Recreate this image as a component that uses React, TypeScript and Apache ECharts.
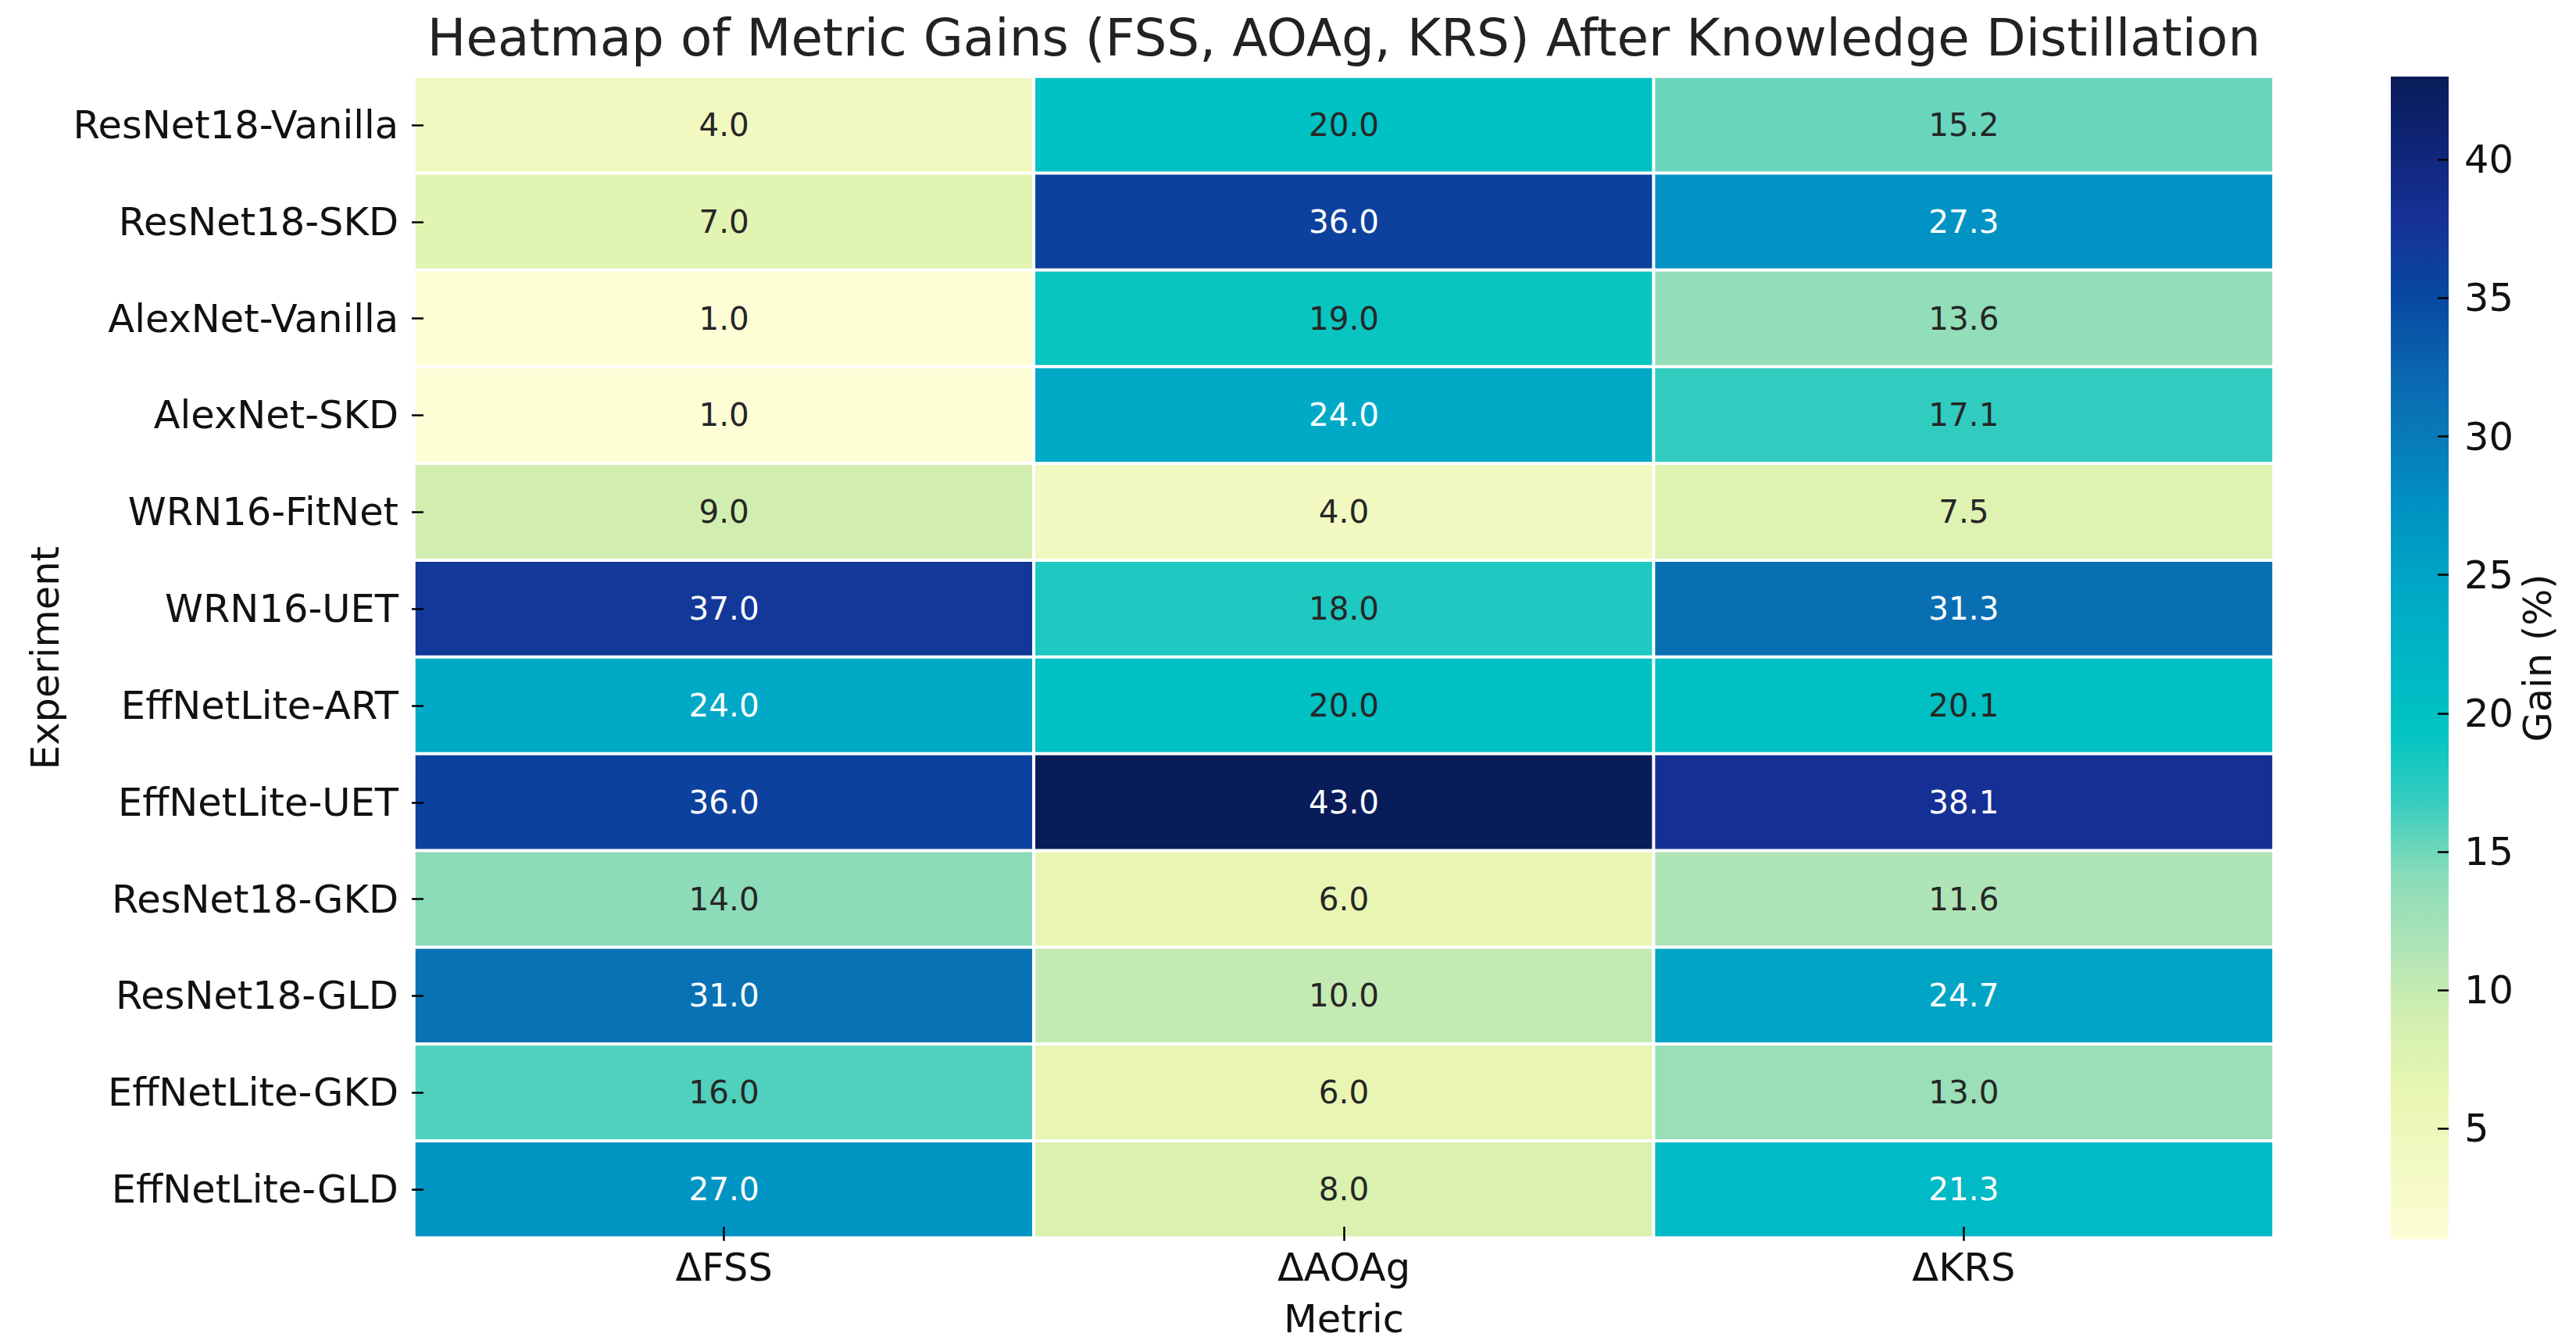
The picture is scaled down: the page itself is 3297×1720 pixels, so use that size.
import React, { useEffect, useRef } from "react";
import * as echarts from "echarts";

const experiments = [
  "ResNet18-Vanilla",
  "ResNet18-SKD",
  "AlexNet-Vanilla",
  "AlexNet-SKD",
  "WRN16-FitNet",
  "WRN16-UET",
  "EffNetLite-ART",
  "EffNetLite-UET",
  "ResNet18-GKD",
  "ResNet18-GLD",
  "EffNetLite-GKD",
  "EffNetLite-GLD",
];
const metrics = ["ΔFSS", "ΔAOAg", "ΔKRS"];
const fssGain = [4.0, 7.0, 1.0, 1.0, 9.0, 37.0, 24.0, 36.0, 14.0, 31.0, 16.0, 27.0];
const aoagGain = [20.0, 36.0, 19.0, 24.0, 4.0, 18.0, 20.0, 43.0, 6.0, 10.0, 6.0, 8.0];
const krsGain = [15.2, 27.3, 13.6, 17.1, 7.5, 31.3, 20.1, 38.1, 11.6, 24.7, 13.0, 21.3];
const colorbarTicks = [5, 10, 15, 20, 25, 30, 35, 40];
const valueMin = 1;
const valueMax = 43;

// Saturated YlGnBu-like colour ramp, evenly spaced from valueMin to valueMax
const cmap = [
  "#fdfdd6",
  "#f3fac4",
  "#e8f6b1",
  "#d3efb0",
  "#b0e4b6",
  "#8adcb9",
  "#38cdc0",
  "#00c4c2",
  "#00b6c6",
  "#00a6c6",
  "#0093c3",
  "#077cb8",
  "#0b64af",
  "#0748a0",
  "#163298",
  "#0f2578",
  "#081c59",
];

const FONT = "DejaVu Sans";
const LABEL_SIZE = 49.5;

export default function App() {
  const ref = useRef<HTMLDivElement>(null);
  useEffect(() => {
    if (!ref.current) return;
    const chart = echarts.init(ref.current, null, { renderer: "svg" });
    const columns = [fssGain, aoagGain, krsGain];
    const data: any[] = [];
    columns.forEach((col, xi) => {
      col.forEach((v, yi) => {
        data.push({
          value: [xi, yi, v],
          label: { color: v > 20.5 ? "#ffffff" : "#262626" },
        });
      });
    });
    const stops = cmap.map((c, i) => ({ offset: i / (cmap.length - 1), color: c }));

    chart.setOption({
      animation: false,
      backgroundColor: "#ffffff",
      textStyle: { fontFamily: FONT },
      grid: [
        { left: 530, top: 98, width: 2380, height: 1486 },
        { left: 3060, top: 98, width: 74, height: 1488 },
      ],
      xAxis: [
        {
          type: "category",
          gridIndex: 0,
          data: metrics,
          position: "bottom",
          offset: 4,
          z: 10,
          axisLine: { show: false },
          axisTick: {
            show: true,
            inside: true,
            alignWithLabel: true,
            length: 18,
            lineStyle: { color: "#000", width: 2.5 },
          },
          axisLabel: { fontSize: LABEL_SIZE, color: "#111", margin: 9, fontFamily: FONT },
          splitLine: { show: false },
        },
        {
          type: "category",
          gridIndex: 1,
          data: [""],
          show: false,
        },
      ],
      yAxis: [
        {
          type: "category",
          gridIndex: 0,
          data: experiments,
          inverse: true,
          offset: 3,
          z: 10,
          axisLine: { show: false },
          axisTick: {
            show: true,
            inside: true,
            alignWithLabel: true,
            length: 15,
            lineStyle: { color: "#000", width: 2.5 },
          },
          axisLabel: { fontSize: LABEL_SIZE, color: "#111", margin: 17, fontFamily: FONT },
          splitLine: { show: false },
        },
        {
          type: "value",
          gridIndex: 1,
          position: "right",
          min: valueMin,
          max: valueMax,
          z: 10,
          axisLine: { show: false },
          splitLine: { show: false },
          axisTick: {
            show: true,
            inside: true,
            length: 14,
            customValues: colorbarTicks,
            lineStyle: { color: "#000", width: 2.5 },
          },
          axisLabel: {
            show: true,
            customValues: colorbarTicks,
            fontSize: LABEL_SIZE,
            color: "#111",
            margin: 20,
            fontFamily: FONT,
          },
        },
      ],
      visualMap: {
        show: false,
        type: "continuous",
        min: valueMin,
        max: valueMax,
        dimension: 2,
        seriesIndex: 0,
        inRange: { color: cmap },
      },
      series: [
        {
          type: "heatmap",
          xAxisIndex: 0,
          yAxisIndex: 0,
          data,
          label: {
            show: true,
            fontSize: 40.5,
            fontFamily: FONT,
            formatter: (p: any) => Number(p.value[2]).toFixed(1),
          },
          itemStyle: { borderColor: "#ffffff", borderWidth: 4 },
          emphasis: { disabled: true },
        },
        {
          type: "custom",
          xAxisIndex: 1,
          yAxisIndex: 1,
          data: [[0, valueMin, valueMax]],
          silent: true,
          renderItem: (params: any, api: any) => {
            const top = api.coord([api.value(0), api.value(2)]);
            const bottom = api.coord([api.value(0), api.value(1)]);
            const w = api.size([1, 0])[0];
            return {
              type: "rect",
              shape: { x: top[0] - w / 2, y: top[1], width: w, height: bottom[1] - top[1] },
              style: {
                fill: {
                  type: "linear",
                  x: 0,
                  y: 1,
                  x2: 0,
                  y2: 0,
                  colorStops: stops,
                },
              },
            };
          },
        },
      ],
      graphic: [
        {
          type: "text",
          x: 1720,
          y: 48,
          style: {
            text: "Heatmap of Metric Gains (FSS, AOAg, KRS) After Knowledge Distillation",
            fontSize: 66,
            fontFamily: FONT,
            fill: "#222",
            textAlign: "center",
            textVerticalAlign: "middle",
          },
        },
        {
          type: "text",
          x: 1720,
          y: 1688,
          style: {
            text: "Metric",
            fontSize: LABEL_SIZE,
            fontFamily: FONT,
            fill: "#111",
            textAlign: "center",
            textVerticalAlign: "middle",
          },
        },
        {
          type: "text",
          x: 58,
          y: 842,
          rotation: Math.PI / 2,
          style: {
            text: "Experiment",
            fontSize: LABEL_SIZE,
            fontFamily: FONT,
            fill: "#111",
            textAlign: "center",
            textVerticalAlign: "middle",
          },
        },
        {
          type: "text",
          x: 3248,
          y: 842,
          rotation: Math.PI / 2,
          style: {
            text: "Gain (%)",
            fontSize: LABEL_SIZE,
            fontFamily: FONT,
            fill: "#111",
            textAlign: "center",
            textVerticalAlign: "middle",
          },
        },
      ],
    });
    return () => chart.dispose();
  }, []);
  return (
    <div
      ref={ref}
      style={{ position: "fixed", left: 0, top: 0, width: 3297, height: 1720, background: "#fff" }}
    />
  );
}
